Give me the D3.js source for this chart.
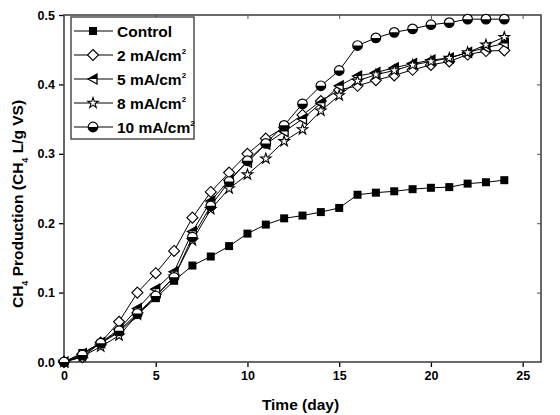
<!DOCTYPE html>
<html>
<head>
<meta charset="utf-8">
<script src="https://cdn.jsdelivr.net/npm/d3@7"></script>
<style>
  body { margin: 0; background: #fff; }
  text { font-family: "Liberation Sans", Arial, sans-serif; font-weight: bold; }
</style>
</head>
<body>
<svg width="560" height="415"></svg>
<script>
var days = d3.range(0, 25);

var control = [0, 0.013, 0.027, 0.043, 0.068, 0.092, 0.117, 0.139, 0.152, 0.167, 0.185, 0.198, 0.207, 0.211, 0.216, 0.222, 0.241, 0.244, 0.246, 0.249, 0.251, 0.252, 0.257, 0.259, 0.262];
var ma2 = [0, 0.007, 0.028, 0.058, 0.100, 0.128, 0.160, 0.208, 0.245, 0.273, 0.300, 0.322, 0.338, 0.356, 0.376, 0.392, 0.398, 0.406, 0.413, 0.421, 0.428, 0.433, 0.443, 0.448, 0.449];
var ma5 = [0, 0.012, 0.028, 0.047, 0.077, 0.105, 0.130, 0.188, 0.232, 0.262, 0.288, 0.314, 0.332, 0.350, 0.373, 0.398, 0.412, 0.417, 0.424, 0.430, 0.435, 0.438, 0.446, 0.453, 0.459];
var ma8 = [0, 0.008, 0.022, 0.038, 0.068, 0.095, 0.123, 0.175, 0.220, 0.250, 0.270, 0.293, 0.318, 0.335, 0.362, 0.384, 0.405, 0.414, 0.420, 0.428, 0.433, 0.438, 0.446, 0.457, 0.468];
var ma10 = [0, 0.010, 0.027, 0.045, 0.070, 0.095, 0.122, 0.180, 0.225, 0.260, 0.290, 0.315, 0.341, 0.372, 0.398, 0.420, 0.456, 0.467, 0.475, 0.480, 0.486, 0.489, 0.494, 0.494, 0.494];

var names = ["Control", "2 mA/cm", "5 mA/cm", "8 mA/cm", "10 mA/cm"];
var symbols = ["square", "diamond", "triangle", "star", "halfcircle"];
var seriesData = [control, ma2, ma5, ma8, ma10];

var svg = d3.select("svg"),
    margin = {top: 15, right: 19, bottom: 53, left: 64},
    width = 560 - margin.left - margin.right,
    height = 415 - margin.top - margin.bottom,
    g = svg.append("g").attr("transform", "translate(" + margin.left + "," + margin.top + ")");

var x = d3.scaleLinear().domain([0, 26]).range([0, width]);
var y = d3.scaleLinear().domain([0, 0.5]).range([height, 0]);

// axes
g.append("g")
    .attr("transform", "translate(0," + height + ")")
    .call(d3.axisBottom(x).tickValues([0, 5, 10, 15, 20, 25]).tickSize(5).tickPadding(4).tickFormat(d3.format("d")))
    .call(function(a) { a.select(".domain").remove(); a.selectAll("text").style("font-size", "12.5px"); a.selectAll("line").attr("stroke-width", 1.3); });

g.append("g")
    .call(d3.axisLeft(y).tickValues([0, 0.1, 0.2, 0.3, 0.4, 0.5]).tickSize(5).tickPadding(4).tickFormat(d3.format(".1f")))
    .call(function(a) { a.select(".domain").remove(); a.selectAll("text").style("font-size", "12.5px"); a.selectAll("line").attr("stroke-width", 1.3); });

g.append("g")
    .call(d3.axisTop(x).tickValues([5, 10, 15, 20, 25]).tickSize(-4).tickFormat(""))
    .call(function(a) { a.select(".domain").remove(); a.selectAll("line").attr("stroke", "#555"); });

g.append("g")
    .attr("transform", "translate(" + width + ",0)")
    .call(d3.axisRight(y).tickValues([0.1, 0.2, 0.3, 0.4]).tickSize(-4).tickFormat(""))
    .call(function(a) { a.select(".domain").remove(); a.selectAll("line").attr("stroke", "#555"); });

g.append("rect")
    .attr("width", width)
    .attr("height", height)
    .attr("fill", "none")
    .attr("stroke", "#444")
    .attr("stroke-width", 1.6);

// axis titles
svg.append("text")
    .attr("x", margin.left + width / 2 - 2)
    .attr("y", 410)
    .attr("text-anchor", "middle")
    .style("font-size", "15.5px")
    .text("Time (day)");

var yt = svg.append("text")
    .attr("transform", "translate(23,204) rotate(-90)")
    .attr("text-anchor", "middle")
    .style("font-size", "15.5px");
yt.append("tspan").text("CH");
yt.append("tspan").attr("dy", 5).style("font-size", "9px").text("4");
yt.append("tspan").attr("dy", -5).text(" Production (CH");
yt.append("tspan").attr("dy", 5).style("font-size", "9px").text("4");
yt.append("tspan").attr("dy", -5).text(" L/g VS)");

// markers
function drawMarker(sel, type) {
  if (type == "square") {
    sel.append("rect").attr("x", -4).attr("y", -4).attr("width", 8).attr("height", 8)
      .attr("fill", "#000");
  } else if (type == "diamond") {
    sel.append("path").attr("d", "M0,-5.5L5.5,0L0,5.5L-5.5,0Z")
      .attr("fill", "#fff").attr("stroke", "#000").attr("stroke-width", 1.1);
  } else if (type == "triangle") {
    sel.append("path").attr("d", "M-5,0L4,-5L4,5Z")
      .attr("fill", "#fff").attr("stroke", "#000").attr("stroke-width", 1.3);
    sel.append("path").attr("d", "M-5,0L4,-5L4,0Z").attr("fill", "#000");
  } else if (type == "star") {
    sel.append("path").attr("d", d3.symbol().type(d3.symbolStar).size(34)())
      .attr("fill", "#fff").attr("stroke", "#000").attr("stroke-width", 1.1);
  } else {
    sel.append("circle").attr("r", 4.8)
      .attr("fill", "#fff").attr("stroke", "#000").attr("stroke-width", 1.2);
    sel.append("path").attr("d", "M-4.8,0A4.8,4.8 0 0 0 4.8,0Z").attr("fill", "#000");
  }
}

var line = d3.line()
    .x(function(d, i) { return x(days[i]); })
    .y(function(d) { return y(d); });

seriesData.forEach(function(vals, k) {
  g.append("path")
    .datum(vals)
    .attr("fill", "none")
    .attr("stroke", "#000")
    .attr("stroke-width", 1)
    .attr("d", line);
});

seriesData.forEach(function(vals, k) {
  g.append("g").selectAll("g")
    .data(vals)
    .enter().append("g")
      .attr("transform", function(d, i) { return "translate(" + x(days[i]) + "," + y(d) + ")"; })
      .each(function() { drawMarker(d3.select(this), symbols[k]); });
});

// legend
var legend = svg.append("g").attr("transform", "translate(71,17)");
legend.append("rect")
    .attr("width", 123)
    .attr("height", 122)
    .attr("fill", "#fff")
    .attr("stroke", "#333")
    .attr("stroke-width", 1.3);

var item = legend.selectAll(".item")
  .data(names)
  .enter().append("g")
    .attr("class", "item")
    .attr("transform", function(d, i) { return "translate(0," + (14 + i * 24) + ")"; });

item.append("line")
    .attr("x1", 3).attr("x2", 42)
    .attr("stroke", "#000").attr("stroke-width", 1);

item.append("g")
    .attr("transform", "translate(22,0)")
    .each(function(d, i) { drawMarker(d3.select(this), symbols[i]); });

var lt = item.append("text")
    .attr("x", 46)
    .attr("y", 5.5)
    .style("font-size", "15.5px");
lt.append("tspan").text(function(d) { return d; });
lt.filter(function(d, i) { return i > 0; })
  .append("tspan").attr("dy", -7).style("font-size", "8px").text("2");
</script>
</body>
</html>
